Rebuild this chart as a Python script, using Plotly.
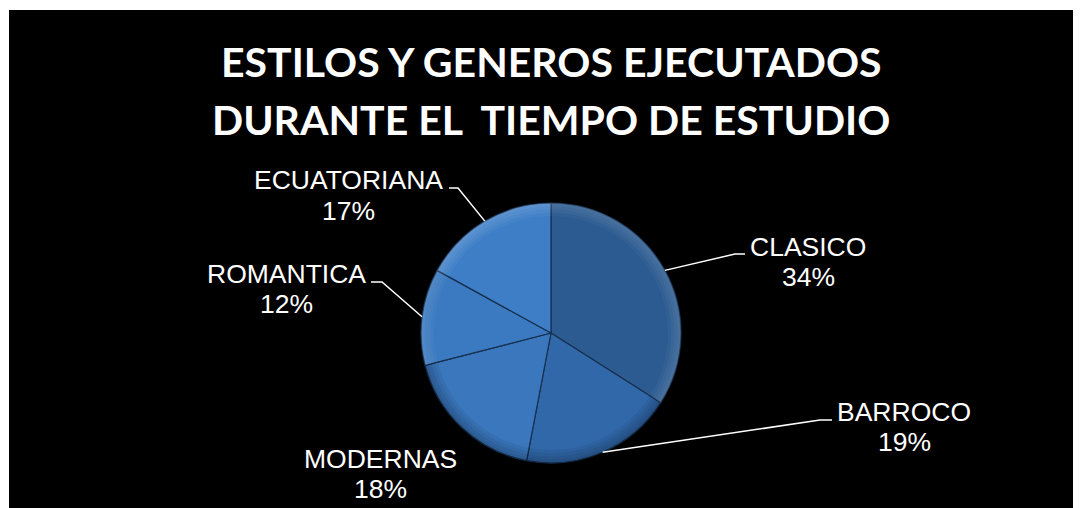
import math
import plotly.graph_objects as go

# ---- data ----
categories = ["CLASICO", "BARROCO", "MODERNAS", "ROMANTICA", "ECUATORIANA"]
values = [34, 19, 18, 12, 17]
slice_colors = ["#2b5b91", "#3068a9", "#3a77bd", "#3b79c1", "#3d7ec7"]
rim_colors = ["rgba(255,255,255,0.035)", "rgba(0,0,0,0.06)", "rgba(0,0,0,0.06)",
              "rgba(255,255,255,0.03)", "rgba(255,255,255,0.045)"]
title_lines = ["ESTILOS Y GENEROS EJECUTADOS", "DURANTE EL  TIEMPO DE ESTUDIO"]

# ---- layout (pixels in the 1081x508 window) ----
OFF = 8                      # default page body margin
W, H = 1081, 508             # figure size (overflow beyond the window is hidden)
CX, CY, R = 551, 333, 130
title_y = [61.5, 119]
# line-1 centre, line-2 centre, leader elbow, leader end (near text)
label_layout = {
    "CLASICO": dict(x=808, y1=247, y2=277, elbow=(735, 254), end=(745, 254)),
    "BARROCO": dict(x=904, y1=412, y2=442, elbow=(820, 420), end=(832, 420)),
    "MODERNAS": dict(x=380, y1=459, y2=489, elbow=None, end=None),
    "ROMANTICA": dict(x=286, y1=273.5, y2=303.5, elbow=(382, 282), end=(371, 282)),
    "ECUATORIANA": dict(x=348, y1=180, y2=211.5, elbow=(458, 188), end=(449, 188)),
}
rim_holes = [0.975, 0.95, 0.925, 0.9]


def px(x):
    return (x - OFF) / W


def py(y):
    return 1 - (y - OFF) / H


dom = dict(x=[px(CX - R), px(CX + R)], y=[py(CY + R), py(CY - R)])

fig = go.Figure()
fig.add_trace(go.Pie(
    labels=categories, values=values, sort=False, direction="clockwise",
    rotation=0, textinfo="none", hoverinfo="label+percent",
    marker=dict(colors=slice_colors, line=dict(color="#17304f", width=1.2)),
    domain=dom, showlegend=False,
))
for hole in rim_holes:
    fig.add_trace(go.Pie(
        labels=categories, values=values, sort=False, direction="clockwise",
        rotation=0, textinfo="none", hoverinfo="skip", hole=hole,
        marker=dict(colors=rim_colors, line=dict(width=0)),
        domain=dom, showlegend=False,
    ))

shapes = [
    dict(type="rect", xref="paper", yref="paper", x0=-0.02, x1=px(9),
         y0=-0.02, y1=1.02, fillcolor="white", line=dict(width=0), layer="below"),
    dict(type="rect", xref="paper", yref="paper", x0=-0.02, x1=1.02,
         y0=py(10), y1=1.02, fillcolor="white", line=dict(width=0), layer="below"),
]
annotations = []

label_font = dict(family="Liberation Sans, Arial", size=26.5, color="white")
total = sum(values)
cum = 0
for cat, v in zip(categories, values):
    mid = (cum + v / 2) / total * 2 * math.pi
    cum += v
    ax = CX + R * math.sin(mid)
    ay = CY - R * math.cos(mid)
    pct = round(100 * v / total)
    L = label_layout[cat]
    for txt, yy in ((cat, L["y1"]), (f"{pct}%", L["y2"])):
        annotations.append(dict(
            x=px(L["x"]), y=py(yy), xref="paper", yref="paper",
            text=txt, showarrow=False, xanchor="center", yanchor="middle",
            font=label_font,
        ))
    if L["elbow"] is not None:
        ex, ey = L["elbow"]
        tx, ty = L["end"]
        path = f"M {px(ax)} {py(ay)} L {px(ex)} {py(ey)} L {px(tx)} {py(ty)}"
        shapes.append(dict(type="path", xref="paper", yref="paper", path=path,
                           line=dict(color="white", width=1.5)))

for line, yy in zip(title_lines, title_y):
    annotations.append(dict(
        x=px(551), y=py(yy), xref="paper", yref="paper",
        text=line, showarrow=False, xanchor="center", yanchor="middle",
        font=dict(family="Lato", size=41, color="white", weight="bold"),
    ))

fig.update_layout(
    width=W, height=H,
    margin=dict(l=0, r=0, t=0, b=0),
    paper_bgcolor="black",
    plot_bgcolor="black",
    shapes=shapes,
    annotations=annotations,
)

fig.write_html("out.html")
